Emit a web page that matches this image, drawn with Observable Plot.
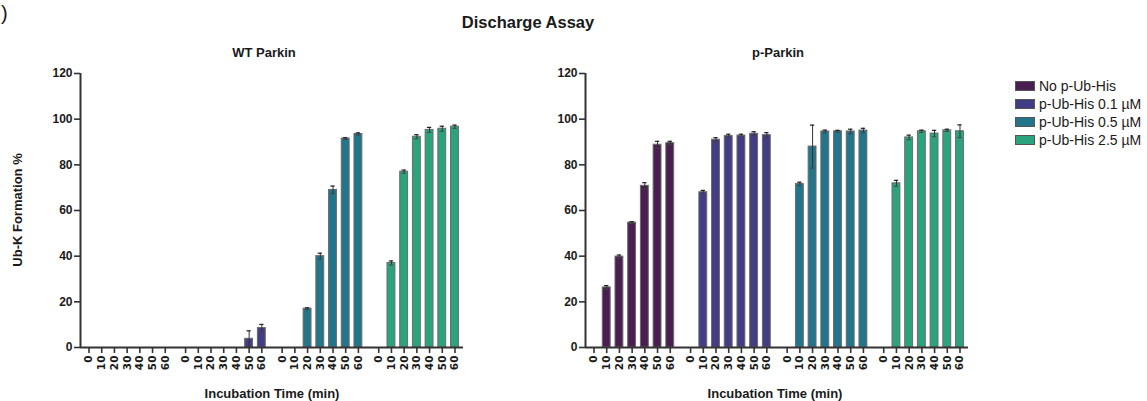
<!DOCTYPE html>
<html>
<head>
<meta charset="utf-8">
<script src="https://cdn.jsdelivr.net/npm/d3@7"></script>
<script src="https://cdn.jsdelivr.net/npm/@observablehq/plot@0.6"></script>
<style>
  html, body { margin: 0; padding: 0; background: #fff; }
  body { width: 1147px; height: 401px; position: relative; overflow: hidden;
         font-family: "Liberation Sans", Arial, sans-serif; color: #1a1a1a; }
  .abs { position: absolute; white-space: nowrap; }
  .title { font-size: 16.5px; font-weight: bold; transform: translate(-50%, -50%); }
  .ptitle { font-size: 13px; font-weight: bold; transform: translate(-50%, -50%); }
  .xlab { font-size: 13px; font-weight: bold; transform: translate(-50%, -50%); }
  .ylab { font-size: 13px; font-weight: bold; transform: translate(-50%, -50%) rotate(-90deg); }
  .legend { left: 1015px; top: 77px; font-size: 14px; }
  .legend .row { display: flex; align-items: center; height: 18px; }
  .legend .sw { width: 18px; height: 8px; border: 1px solid #555; margin-right: 4px; }
</style>
</head>
<body>
<div class="abs" style="left:1px;top:2px;font-size:20px;">)</div>
<div class="abs title" style="left:528px;top:22px;">Discharge Assay</div>
<div class="abs ptitle" style="left:264px;top:52px;">WT Parkin</div>
<div class="abs ptitle" style="left:778px;top:52px;">p-Parkin</div>
<div class="abs ylab" style="left:17px;top:210px;">Ub-K Formation %</div>
<div class="abs xlab" style="left:272px;top:393px;">Incubation Time (min)</div>
<div class="abs xlab" style="left:775px;top:393px;">Incubation Time (min)</div>
<div id="p1" class="abs" style="left:0px;top:60px;"></div>
<div id="p2" class="abs" style="left:500px;top:60px;"></div>
<div id="legend" class="abs legend"></div>
<script>
// ---- data ----
const times = [0, 10, 20, 30, 40, 50, 60];
const conditions = ["No p-Ub-His", "p-Ub-His 0.1 µM", "p-Ub-His 0.5 µM", "p-Ub-His 2.5 µM"];
const colors = ["#4a1e50", "#433d85", "#22758b", "#2ba47e"];

// WT Parkin (mean, error)
const wtNo     = [0, 0, 0, 0, 0, 0, 0];
const wtNoErr  = [0, 0, 0, 0, 0, 0, 0];
const wt01     = [0, 0, 0, 0, 0, 3.8, 8.5];
const wt01Err  = [0, 0, 0, 0, 0, 3.5, 1.6];
const wt05     = [0, 0, 17, 40, 69, 91.5, 93.5];
const wt05Err  = [0, 0, 0.4, 1.3, 1.7, 0.4, 0.5];
const wt25     = [0, 37, 77, 92.3, 95.3, 95.8, 96.7];
const wt25Err  = [0, 0.9, 0.7, 0.9, 1.1, 1.1, 0.7];

// p-Parkin (mean, error)
const pNo      = [0, 26.3, 39.8, 54.7, 70.8, 88.8, 89.5];
const pNoErr   = [0, 0.8, 0.7, 0.4, 1.4, 1.5, 0.8];
const p01      = [0, 68, 91, 92.6, 92.8, 93.6, 93];
const p01Err   = [0, 0.8, 0.9, 0.8, 0.6, 0.9, 1.1];
const p05      = [0, 71.6, 88, 94.6, 94.7, 94.6, 95];
const p05Err   = [0, 0.8, 9.4, 0.6, 0.4, 1.0, 1.0];
const p25      = [0, 71.9, 92, 94.7, 93.7, 95.1, 94.7];
const p25Err   = [0, 1.3, 1.0, 0.5, 1.4, 0.5, 2.8];

const yTicks = [0, 20, 40, 60, 80, 100, 120];

// ---- build table ----
const GROUP_STEP = 7.6;
function table(series, errs) {
  const rows = [];
  series.forEach((vals, g) => {
    vals.forEach((v, t) => {
      rows.push({cond: conditions[g], g, time: times[t], pos: g * GROUP_STEP + t, value: v, err: errs[g][t]});
    });
  });
  return rows;
}
const wtRows = table([wtNo, wt01, wt05, wt25], [wtNoErr, wt01Err, wt05Err, wt25Err]);
const pRows  = table([pNo, p01, p05, p25], [pNoErr, p01Err, p05Err, p25Err]);

const xDomain = [-0.67, 3 * GROUP_STEP + 6 + 0.67];
const HALF = 0.31, CAP = 0.17;
const AX = "#333";

function panel(rows, marginLeft) {
  const bars = rows.filter(d => d.value > 0);
  const errs = bars.filter(d => d.err > 0);
  const labelMap = new Map(rows.map(d => [d.pos, String(d.time)]));
  return Plot.plot({
    width: marginLeft + 383 + 10,
    height: 316,
    marginLeft,
    marginRight: 10,
    marginTop: 13,
    marginBottom: 29,
    style: {fontFamily: "'Liberation Sans', Arial, sans-serif", color: "#1a1a1a", background: "transparent"},
    x: {domain: xDomain, axis: null},
    y: {domain: [0, 120], axis: null},
    color: {domain: conditions, range: colors},
    marks: [
      Plot.rectY(bars, {x1: d => d.pos - HALF, x2: d => d.pos + HALF, y: "value", fill: "cond", stroke: "#6b6b6b", strokeWidth: 1}),
      Plot.ruleX(errs, {x: "pos", y1: d => d.value - d.err, y2: d => d.value + d.err, stroke: "#333", strokeWidth: 1}),
      Plot.ruleY(errs, {y: d => d.value + d.err, x1: d => d.pos - CAP, x2: d => d.pos + CAP, stroke: "#222", strokeWidth: 1.2}),
      Plot.ruleY(errs, {y: d => d.value - d.err, x1: d => d.pos - CAP, x2: d => d.pos + CAP, stroke: "#444", strokeWidth: 1}),
      Plot.ruleY([0], {stroke: AX, strokeWidth: 2}),
      Plot.ruleX([xDomain[0]], {y1: 0, y2: 120, stroke: AX, strokeWidth: 2}),
      Plot.axisY(yTicks, {anchor: "left", tickSize: 6, tickPadding: 2, fontSize: 12, fontWeight: "bold", stroke: AX, strokeWidth: 1.6, label: null}),
      Plot.axisX(rows.map(d => d.pos), {anchor: "bottom", tickSize: 6, tickPadding: 2, tickRotate: -90,
        tickFormat: d => labelMap.get(d), fontSize: 10.5, fontWeight: "bold",
        fontFamily: "'DejaVu Sans', sans-serif", stroke: AX, strokeWidth: 1.6, label: null})
    ]
  });
}

document.getElementById("p1").appendChild(panel(wtRows, 80));
document.getElementById("p2").appendChild(panel(pRows, 85));

// legend
const leg = document.getElementById("legend");
conditions.forEach((c, i) => {
  const row = document.createElement("div");
  row.className = "row";
  const sw = document.createElement("div");
  sw.className = "sw";
  sw.style.background = colors[i];
  const t = document.createElement("span");
  t.textContent = c;
  row.appendChild(sw); row.appendChild(t);
  leg.appendChild(row);
});
</script>
</body>
</html>
